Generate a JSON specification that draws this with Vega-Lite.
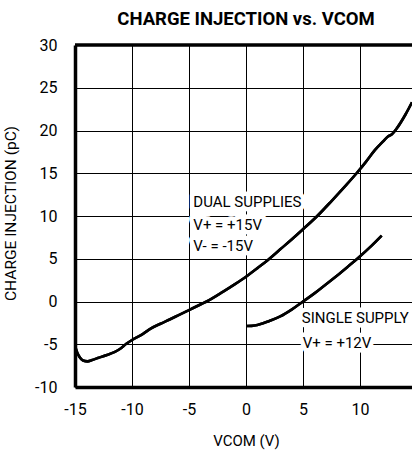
{
  "$schema": "https://vega.github.io/schema/vega-lite/v6.json",
  "width": 337,
  "height": 342,
  "autosize": {"type": "none"},
  "padding": {"left": 75, "top": 45, "right": 0, "bottom": 68},
  "background": "white",
  "config": {
    "view": {"stroke": null},
    "font": "Roboto, Liberation Sans, sans-serif"
  },
  "title": {
    "text": "CHARGE INJECTION vs. VCOM",
    "fontSize": 18.5,
    "fontWeight": "bold",
    "color": "black",
    "anchor": "middle",
    "frame": "group",
    "dx": 2.5,
    "offset": 9
  },
  "datasets": {
    "curves": [
      {"series": "dual", "x": -15, "y": -5.2},
      {"series": "dual", "x": -14.8, "y": -6.0},
      {"series": "dual", "x": -14.6, "y": -6.5},
      {"series": "dual", "x": -14.3, "y": -6.9},
      {"series": "dual", "x": -13.9, "y": -7.0},
      {"series": "dual", "x": -13.5, "y": -6.85},
      {"series": "dual", "x": -13.0, "y": -6.6},
      {"series": "dual", "x": -12.2, "y": -6.25},
      {"series": "dual", "x": -11.5, "y": -5.9},
      {"series": "dual", "x": -11.0, "y": -5.5},
      {"series": "dual", "x": -10.5, "y": -4.95},
      {"series": "dual", "x": -10.0, "y": -4.5},
      {"series": "dual", "x": -9.0, "y": -3.75},
      {"series": "dual", "x": -8.4, "y": -3.2},
      {"series": "dual", "x": -7.5, "y": -2.6},
      {"series": "dual", "x": -6.7, "y": -2.1},
      {"series": "dual", "x": -6.0, "y": -1.65},
      {"series": "dual", "x": -5.0, "y": -1.0},
      {"series": "dual", "x": -4.0, "y": -0.35},
      {"series": "dual", "x": -3.45, "y": 0.0},
      {"series": "dual", "x": -2.0, "y": 1.15},
      {"series": "dual", "x": -1.0, "y": 2.0},
      {"series": "dual", "x": 0.0, "y": 2.9},
      {"series": "dual", "x": 1.0, "y": 3.9},
      {"series": "dual", "x": 2.05, "y": 5.0},
      {"series": "dual", "x": 3.0, "y": 6.1},
      {"series": "dual", "x": 4.0, "y": 7.25},
      {"series": "dual", "x": 5.0, "y": 8.45},
      {"series": "dual", "x": 6.25, "y": 10.0},
      {"series": "dual", "x": 7.5, "y": 11.75},
      {"series": "dual", "x": 8.6, "y": 13.35},
      {"series": "dual", "x": 9.7, "y": 15.0},
      {"series": "dual", "x": 10.5, "y": 16.3},
      {"series": "dual", "x": 11.3, "y": 17.7},
      {"series": "dual", "x": 12.0, "y": 18.7},
      {"series": "dual", "x": 12.45, "y": 19.3},
      {"series": "dual", "x": 12.8, "y": 19.55},
      {"series": "dual", "x": 13.2, "y": 20.2},
      {"series": "dual", "x": 14.0, "y": 21.9},
      {"series": "dual", "x": 14.56, "y": 23.3},
      {"series": "single", "x": 0.05, "y": -2.87},
      {"series": "single", "x": 0.5, "y": -2.85},
      {"series": "single", "x": 1.0, "y": -2.75},
      {"series": "single", "x": 1.5, "y": -2.55},
      {"series": "single", "x": 2.0, "y": -2.3},
      {"series": "single", "x": 3.0, "y": -1.75},
      {"series": "single", "x": 4.0, "y": -0.95},
      {"series": "single", "x": 5.0, "y": 0.0},
      {"series": "single", "x": 6.0, "y": 0.95},
      {"series": "single", "x": 7.0, "y": 2.0},
      {"series": "single", "x": 8.0, "y": 3.05},
      {"series": "single", "x": 9.0, "y": 4.15},
      {"series": "single", "x": 9.76, "y": 5.0},
      {"series": "single", "x": 11.0, "y": 6.5},
      {"series": "single", "x": 11.9, "y": 7.7}
    ],
    "labels": [
      {"x": -4.62, "y": 11.67, "text": "DUAL SUPPLIES"},
      {"x": -4.62, "y": 8.95, "text": "V+ = +15V"},
      {"x": -4.62, "y": 6.5, "text": "V- = -15V"},
      {"x": 4.89, "y": -1.97, "text": "SINGLE SUPPLY"},
      {"x": 4.97, "y": -4.8, "text": "V+ = +12V"}
    ]
  },
  "layer": [
    {
      "data": {"name": "curves"},
      "mark": {"type": "line", "color": "black", "strokeWidth": 2.6, "interpolate": "monotone", "clip": true},
      "encoding": {
        "x": {
          "field": "x", "type": "quantitative",
          "scale": {"domain": [-15, 14.56], "nice": false, "zero": false},
          "axis": {
            "values": [-15, -10, -5, 0, 5, 10, 15],
            "labelExpr": "'' + datum.value",
            "title": "VCOM (V)",
            "titleFontSize": 15, "titleFontWeight": "normal", "titleColor": "black",
            "titleX": 171, "titleY": 53, "titleBaseline": "middle", "titleAlign": "center",
            "labelFontSize": 16, "labelColor": "black", "labelPadding": 14,
            "labelFlush": false, "labelOverlap": false,
            "ticks": false,
            "grid": true, "gridColor": "black", "gridWidth": 1, "gridOpacity": 1,
            "domain": true, "domainColor": "black", "domainWidth": 3.5
          }
        },
        "y": {
          "field": "y", "type": "quantitative",
          "scale": {"domain": [-10, 30], "nice": false, "zero": false},
          "axis": {
            "values": [-10, -5, 0, 5, 10, 15, 20, 25, 30],
            "labelExpr": "'' + datum.value",
            "title": "CHARGE INJECTION (pC)",
            "titleFontSize": 15.5, "titleFontWeight": "normal", "titleColor": "black",
            "titleX": -65, "titleY": 168, "titleAngle": -90, "titleBaseline": "middle", "titleAlign": "center",
            "labelFontSize": 16, "labelColor": "black", "labelPadding": 18,
            "labelFlush": false, "labelOverlap": false,
            "ticks": false,
            "grid": true, "gridColor": "black", "gridWidth": 1, "gridOpacity": 1,
            "domain": true, "domainColor": "black", "domainWidth": 3.5
          }
        },
        "detail": {"field": "series", "type": "nominal"}
      }
    },
    {
      "data": {"values": [{"top": 30}]},
      "mark": {"type": "rule", "color": "black", "strokeWidth": 3.5},
      "encoding": {"y": {"field": "top", "type": "quantitative"}}
    },
    {
      "data": {"name": "labels"},
      "mark": {"type": "text", "align": "left", "baseline": "middle", "fontSize": 15, "stroke": "white", "strokeWidth": 9, "strokeJoin": "round", "color": "white"},
      "encoding": {
        "x": {"field": "x", "type": "quantitative"},
        "y": {"field": "y", "type": "quantitative"},
        "text": {"field": "text"}
      }
    },
    {
      "data": {"name": "labels"},
      "mark": {"type": "text", "align": "left", "baseline": "middle", "fontSize": 15, "color": "black"},
      "encoding": {
        "x": {"field": "x", "type": "quantitative"},
        "y": {"field": "y", "type": "quantitative"},
        "text": {"field": "text"}
      }
    },
    {
      "data": {"name": "curves"},
      "mark": {"type": "line", "color": "black", "strokeWidth": 2.6, "interpolate": "monotone", "clip": true},
      "encoding": {
        "x": {"field": "x", "type": "quantitative"},
        "y": {"field": "y", "type": "quantitative"},
        "detail": {"field": "series", "type": "nominal"}
      }
    }
  ]
}
